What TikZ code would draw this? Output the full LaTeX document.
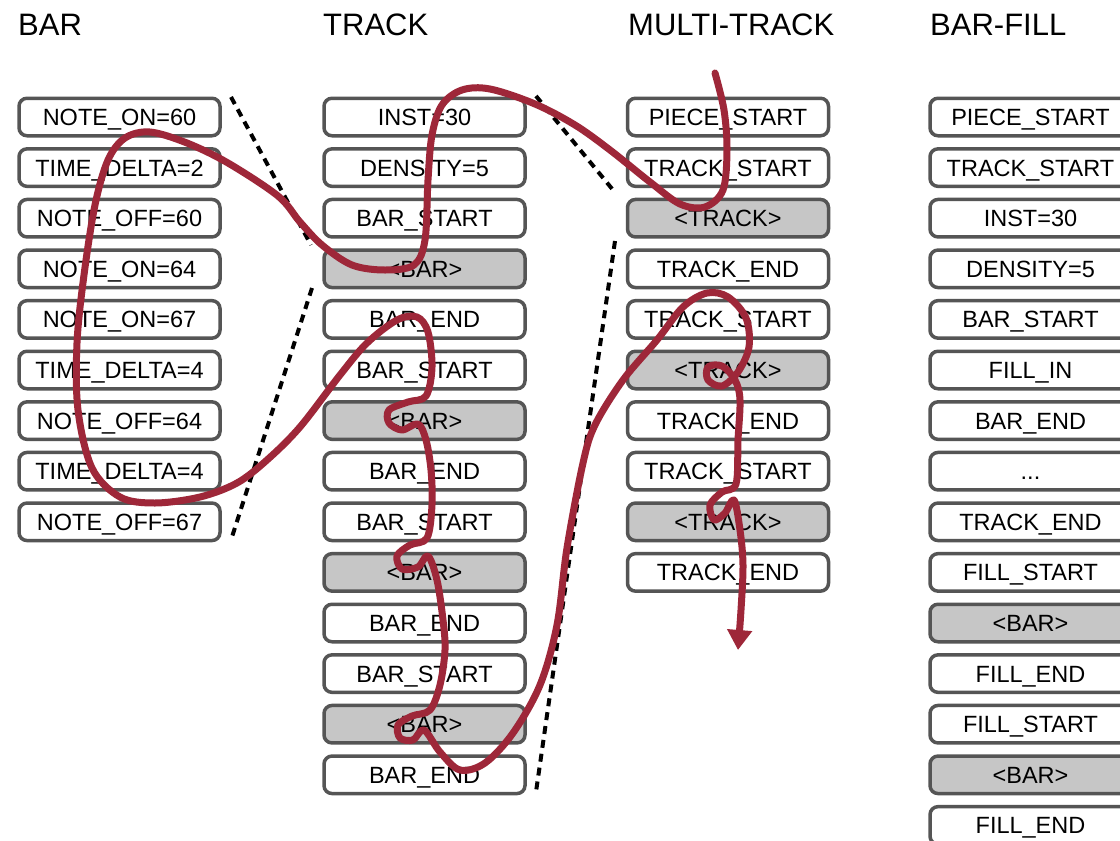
\documentclass[tikz,border=0pt]{standalone}
\usepackage{fontspec}
\setmainfont{Liberation Sans}
\usetikzlibrary{arrows.meta}
\definecolor{scribble}{RGB}{158,39,57}
\definecolor{boxline}{RGB}{85,85,85}
\definecolor{boxgray}{RGB}{198,198,198}
\newcommand{\mydots}{...}
\begin{document}
\begin{tikzpicture}[x=1pt,y=-1pt,
  tok/.style={draw=boxline, line width=3.5pt, rounded corners=8pt, fill=white,
    minimum width=201pt, minimum height=37.5pt, inner sep=0pt,
    text height=16.9pt, text depth=0pt, font=\fontsize{23.5}{28}\selectfont},
  tokg/.style={tok, fill=boxgray},
  coltitle/.style={anchor=base west, inner sep=0pt, font=\fontsize{31}{36}\selectfont},
  sepline/.style={line width=4pt, dash pattern=on 8pt off 6pt},
  scribblepath/.style={draw=scribble, line width=7pt, line cap=round, line join=round}]
\useasboundingbox[fill=white] (0,0) rectangle (1120,841);

% titles
\node[coltitle] (tbar) at (18,35) {BAR};
\node[coltitle] (ttrack) at (323,35) {TRACK};
\node[coltitle] (tmulti) at (628,35) {MULTI-TRACK};
\node[coltitle] (tfill) at (930,35) {BAR-FILL};

% BAR column
\foreach \lab/\sty [count=\i from 0] in {NOTE\_ON=60/tok, TIME\_DELTA=2/tok, NOTE\_OFF=60/tok,
  NOTE\_ON=64/tok, NOTE\_ON=67/tok, TIME\_DELTA=4/tok, NOTE\_OFF=64/tok, TIME\_DELTA=4/tok, NOTE\_OFF=67/tok}
  \node[\sty] (b\i) at (119.5,117+50.6*\i) {\lab};

% TRACK column
\foreach \lab/\sty [count=\i from 0] in {INST=30/tok, DENSITY=5/tok, BAR\_START/tok, <BAR>/tokg,
  BAR\_END/tok, BAR\_START/tok, <BAR>/tokg, BAR\_END/tok, BAR\_START/tok, <BAR>/tokg,
  BAR\_END/tok, BAR\_START/tok, <BAR>/tokg, BAR\_END/tok}
  \node[\sty] (t\i) at (424.5,117+50.6*\i) {\lab};

% MULTI-TRACK column
\foreach \lab/\sty [count=\i from 0] in {PIECE\_START/tok, TRACK\_START/tok, <TRACK>/tokg, TRACK\_END/tok,
  TRACK\_START/tok, <TRACK>/tokg, TRACK\_END/tok, TRACK\_START/tok, <TRACK>/tokg, TRACK\_END/tok}
  \node[\sty] (m\i) at (728,117+50.6*\i) {\lab};

% BAR-FILL column
\foreach \lab/\sty [count=\i from 0] in {PIECE\_START/tok, TRACK\_START/tok, INST=30/tok, DENSITY=5/tok,
  BAR\_START/tok, FILL\_IN/tok, BAR\_END/tok, \mydots/tok, TRACK\_END/tok, FILL\_START/tok, <BAR>/tokg,
  FILL\_END/tok, FILL\_START/tok, <BAR>/tokg, FILL\_END/tok}
  \node[\sty] (f\i) at (1030.5,117+50.6*\i) {\lab};

% zoom guide lines
\coordinate (ga1) at (231,97);  \coordinate (ga2) at (311,245);
\coordinate (gb1) at (312,288); \coordinate (gb2) at (231,540);
\coordinate (gc1) at (536,96);  \coordinate (gc2) at (613,190);
\coordinate (gd1) at (615,241); \coordinate (gd2) at (536,792);
\draw[sepline] (ga1) -- (ga2);
\draw[sepline] (gb1) -- (gb2);
\draw[sepline] (gc1) -- (gc2);
\draw[sepline] (gd1) -- (gd2);

% hand-drawn path
\coordinate (penstart) at (715,73);
\coordinate (penend) at (738,650);
\draw[scribblepath, -{Triangle[length=20pt,width=24pt]}] plot[smooth, tension=0.55] coordinates {
 (penstart) (724,110) (727,150) (723,190) (705,207) (680,204) (650,182) (610,150) (575,125)
 (535,104) (490,89) (462,90) (442,105) (432,135) (428,180) (425,240) (414,265) (385,270)
 (352,265) (322,245) (300,222) (278,196) (228,163) (187,143) (150,132) (125,138) (108,160)
 (95,205) (84,275) (77,343) (78,410) (92,468) (120,497) (155,503) (200,497) (237,483)
 (267,460) (300,427) (340,375) (367,343) (397,320) (417,317) (428,332) (432,367) (426,396)
 (408,402) (389,410) (389,423) (402,430) (418,424) (426,440) (431,470) (432,505) (427,538)
 (410,545) (397,556) (402,569) (418,567) (428,556) (437,580) (443,620) (445,650) (440,685)
 (430,710) (412,716) (398,725) (400,738) (413,740) (424,730) (440,752) (460,770) (485,763)
 (513,733) (540,685) (557,625) (567,548) (583,463) (595,425) (623,380) (657,340) (683,307)
 (707,293) (728,297) (746,318) (749,347) (738,372) (722,386) (708,380) (708,367) (722,366)
 (735,380) (740,400) (738,440) (736,484) (722,492) (710,505) (714,520) (725,513) (734,500)
 (740,530) (743,565) (741,610) (penend)};
\end{tikzpicture}
\end{document}
